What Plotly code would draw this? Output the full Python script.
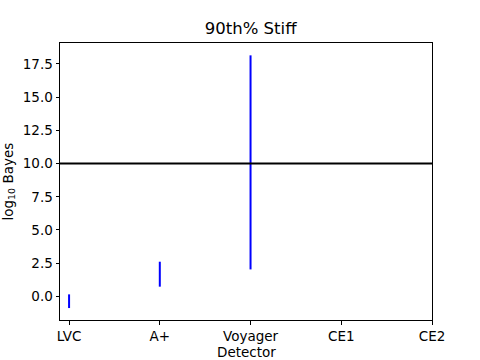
import plotly.graph_objects as go

detectors = ["LVC", "A+", "Voyager", "CE1", "CE2"]
bayes_low = [-0.88, 0.73, 2.03]
bayes_high = [0.15, 2.61, 18.15]
threshold = 10.0
yticks = [0.0, 2.5, 5.0, 7.5, 10.0, 12.5, 15.0, 17.5]

xs, ys = [], []
for i, (lo, hi) in enumerate(zip(bayes_low, bayes_high)):
    xs += [i, i, None]
    ys += [lo, hi, None]

fig = go.Figure()
fig.add_trace(go.Scatter(x=xs, y=ys, mode="lines",
                         line=dict(color="blue", width=2), showlegend=False,
                         hoverinfo="skip"))
fig.add_hline(y=threshold, line=dict(color="black", width=2))

L, R, T, B = 60, 48, 43, 40
pw, ph = 480 - L - R, 360 - T - B
font = dict(family="DejaVu Sans", size=13.5, color="black")
fig.update_layout(
    width=480, height=360,
    margin=dict(l=L, r=R, t=T, b=B, autoexpand=False),
    paper_bgcolor="white", plot_bgcolor="white",
    font=font,
    title=dict(text="90th% Stiff", x=(L + pw / 2) / 480, xanchor="center",
               xref="paper", y=1 - 28 / 360, yanchor="middle",
               font=dict(family="DejaVu Sans", size=16.5, color="black")),
    xaxis=dict(range=[-0.1, 4], tickvals=list(range(len(detectors))),
               ticktext=detectors, ticks="outside", ticklen=3.5, tickwidth=1,
               tickcolor="black", showline=True, linecolor="black", linewidth=1,
               mirror=True, showgrid=False, zeroline=False, automargin=False),
    yaxis=dict(range=[-1.78, 19.08], tickvals=yticks,
               ticktext=[f"{v:.1f}" for v in yticks], ticks="outside",
               ticklen=3.5, tickwidth=1, tickcolor="black", showline=True,
               linecolor="black", linewidth=1, mirror=True, showgrid=False,
               zeroline=False, automargin=False),
    annotations=[
        dict(text="Detector", xref="paper", yref="paper", x=0.5,
             y=-(352 - (T + ph)) / ph, xanchor="center", yanchor="middle",
             showarrow=False, font=font),
        dict(text="log<sub>10</sub> Bayes", xref="paper", yref="paper",
             x=(8 - L) / pw, y=0.5, xanchor="center", yanchor="middle",
             textangle=-90, showarrow=False, font=font),
    ],
)
fig.write_html("out.html", config={"displayModeBar": False},
               post_script="document.body.style.margin='0';document.body.style.overflow='hidden';")
